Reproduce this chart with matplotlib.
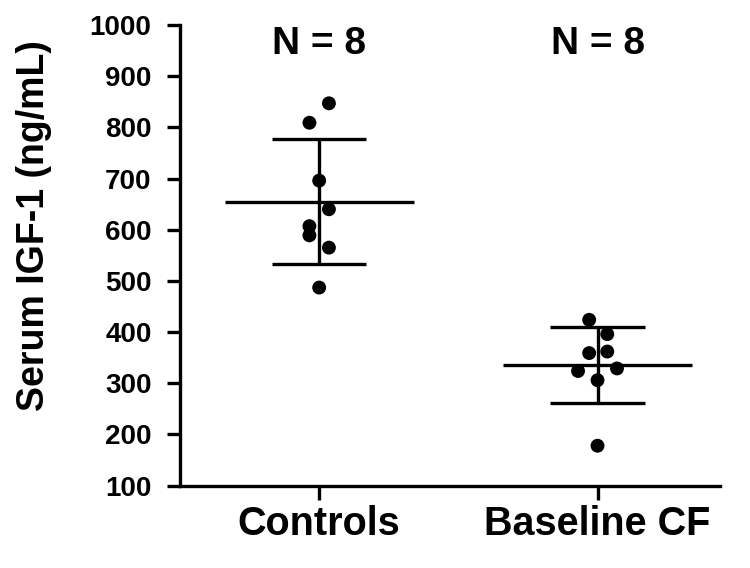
import matplotlib
matplotlib.use("Agg")
import matplotlib.pyplot as plt
import numpy as np

plt.rcParams["font.family"] = ["Liberation Sans", "DejaVu Sans"]
plt.rcParams["font.weight"] = "bold"

GROUPS = ["Controls", "Baseline CF"]
GROUP_N = ["N = 8", "N = 8"]

# serum IGF-1 values (ng/mL)
CONTROLS = [847, 809, 696, 640, 607, 589, 565, 487]
BASELINE_CF = [424, 396, 359, 362, 324, 329, 306, 178]

# horizontal scatter offsets of the dots within each group (x units)
CONTROLS_JITTER = [0.035, -0.035, 0.0, 0.035, -0.035, -0.035, 0.035, 0.0]
BASELINE_JITTER = [-0.03, 0.035, -0.03, 0.035, -0.07, 0.07, 0.0, 0.0]

Y_TICKS = [100, 200, 300, 400, 500, 600, 700, 800, 900, 1000]

MEAN_HALF_WIDTH = 0.34
CAP_HALF_WIDTH = 0.17
LINE_W = 2.4

fig = plt.figure(figsize=(7.5, 5.68), dpi=100)
ax = fig.add_axes([0.24, 0.145, 0.72, 0.811])

for i, (values, jitter) in enumerate([(CONTROLS, CONTROLS_JITTER), (BASELINE_CF, BASELINE_JITTER)]):
    values = np.array(values, dtype=float)
    mean = values.mean()
    sd = values.std(ddof=1)

    # mean line, SD whisker and caps
    ax.hlines(mean, i - MEAN_HALF_WIDTH, i + MEAN_HALF_WIDTH, color="black", lw=LINE_W, zorder=2)
    ax.vlines(i, mean - sd, mean + sd, color="black", lw=LINE_W, zorder=2)
    ax.hlines([mean - sd, mean + sd], i - CAP_HALF_WIDTH, i + CAP_HALF_WIDTH, color="black", lw=LINE_W, zorder=2)

    ax.scatter(i + np.array(jitter), values, s=100, color="black", edgecolors="none", zorder=3)

    ax.text(i, 963, GROUP_N[i], ha="center", va="center", fontsize=28, fontweight="bold")

ax.set_xlim(-0.5, 1.44)
ax.set_ylim(100, 1000)
ax.set_yticks(Y_TICKS)
ax.set_xticks(range(len(GROUPS)))
ax.set_xticklabels(GROUPS, fontsize=28.5, fontweight="bold")
ax.tick_params(axis="y", labelsize=20, length=9.5, width=LINE_W, pad=11)
ax.tick_params(axis="x", length=10, width=LINE_W, pad=4)
for lab in ax.get_yticklabels():
    lab.set_fontweight("bold")

ax.spines["top"].set_visible(False)
ax.spines["right"].set_visible(False)
ax.spines["left"].set_linewidth(LINE_W)
ax.spines["bottom"].set_linewidth(LINE_W)

ax.set_ylabel("Serum IGF-1 (ng/mL)", fontsize=27, fontweight="bold")
ax.yaxis.set_label_coords(-0.237, 0.564)

fig.savefig("out.png", dpi=100)
